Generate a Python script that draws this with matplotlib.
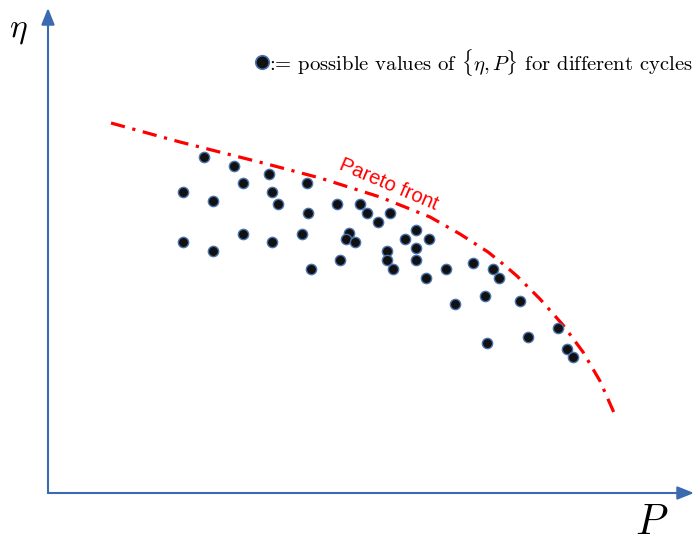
import matplotlib.pyplot as plt

plt.rcParams['mathtext.fontset'] = 'cm'

# Sampled cycles: power P and efficiency eta (arbitrary units)
cycle_P = [156, 186, 221, 195, 259, 135, 224, 165, 230, 289, 312, 260, 319, 342,
           330, 195, 254, 301, 368, 135, 224, 298, 307, 357, 381, 368, 165, 339,
           292, 339, 368, 263, 345, 398, 378, 425, 445, 451, 437, 407, 472, 510,
           480, 439, 519, 525]
cycle_eta = [336, 327, 319, 310, 310, 301, 301, 292, 289, 289, 289, 280, 280, 280,
             271, 259, 259, 260, 263, 251, 251, 254, 251, 254, 254, 245, 242, 242,
             233, 233, 233, 224, 224, 224, 215, 230, 224, 215, 197, 189, 192, 165,
             156, 150, 144, 136]

# Pareto front sketch
front_P = [63, 132, 219, 272, 332, 382, 412, 440, 455, 469, 480, 492, 515, 535,
           552, 567]
front_eta = [370, 351, 329, 315, 296, 276, 259, 241, 229, 217, 206, 194, 168, 141,
             112, 78]

axis_color = '#3a6bb0'
dot_face = '#111111'
dot_edge = '#4a74b0'

fig = plt.figure(figsize=(6.94, 5.42), dpi=100)
ax = fig.add_axes([0, 0, 1, 1])
ax.set_xlim(-48, 646)
ax.set_ylim(-49, 493)
ax.axis('off')

# axes drawn as arrows
ax.annotate('', xy=(646, 0), xytext=(0, 0),
            arrowprops=dict(arrowstyle='-|>,head_length=1.0,head_width=0.4',
                            color=axis_color, lw=1.5, shrinkA=0, shrinkB=0))
ax.annotate('', xy=(0, 485), xytext=(0, 0),
            arrowprops=dict(arrowstyle='-|>,head_length=1.0,head_width=0.4',
                            color=axis_color, lw=1.5, shrinkA=0, shrinkB=0))

ax.text(-30, 463, r'$\eta$', fontsize=24, ha='center', va='center')
ax.text(604, -29, r'$P$', fontsize=30, ha='center', va='center')

# Pareto front
ax.plot(front_P, front_eta, color='red', lw=2.3,
        dashes=(4.5, 2.4, 1.0, 2.4), solid_capstyle='butt')
ax.text(341, 308, 'Pareto front', color='red', fontsize=14.5,
        family='Liberation Sans', rotation=-23, ha='center', va='center',
        rotation_mode='anchor')

# cycle points
ax.scatter(cycle_P, cycle_eta, s=55, c=dot_face, edgecolors=dot_edge,
           linewidths=1.0, zorder=3)

# legend line
ax.scatter([214], [431], s=95, c=dot_face, edgecolors=dot_edge, linewidths=1.2, zorder=3)
ax.text(221, 431, ':= possible values of ' + r'$\{\eta, P\}$' + ' for different cycles',
        fontsize=14.9, family='cmr10', ha='left', va='center')

fig.savefig('out.png', dpi=100)
